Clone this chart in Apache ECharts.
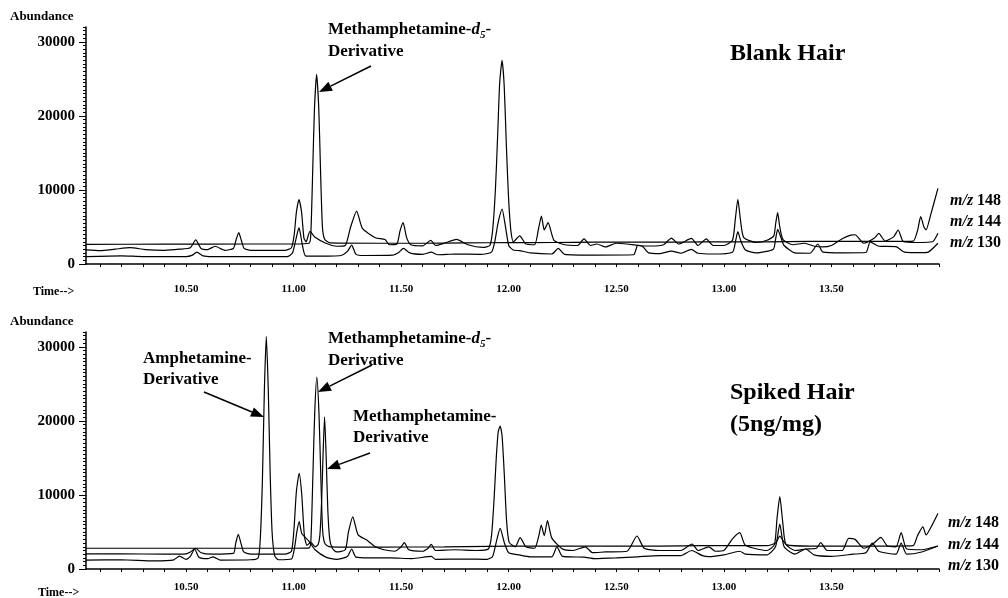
<!DOCTYPE html>
<html>
<head>
<meta charset="utf-8">
<script src="https://cdn.jsdelivr.net/npm/echarts@6/dist/echarts.min.js"></script>
<style>
  html,body{margin:0;padding:0;background:#fff;}
  #chart{width:1008px;height:598px;}
</style>
</head>
<body>
<div id="chart"></div>
<script>
// tick labels / tick positions
var xTickLabels = [10.5, 11.0, 11.5, 12.0, 12.5, 13.0, 13.5];
var xMinorTicks = [10.1,10.2,10.3,10.4,10.5,10.6,10.7,10.8,10.9,11.0,11.1,11.2,11.3,11.4,11.5,11.6,11.7,11.8,11.9,12.0,
                   12.1,12.2,12.3,12.4,12.5,12.6,12.7,12.8,12.9,13.0,13.1,13.2,13.3,13.4,13.5,13.6,13.7,13.8,13.9,14.0];
var yTickLabels = [0, 10000, 20000, 30000];

// Blank hair  [time, abundance]
var blank148 = [[10.035,2650],[10.40,2680],[10.80,2700],[11.00,2700],[11.072,2800],[11.08,4000],[11.089,12800],[11.097,21000],[11.107,25600],
  [11.117,21000],[11.125,12800],[11.134,5000],[11.145,3300],[11.17,2850],
  [11.40,2800],[11.60,2800],[11.80,2850],[12.00,2880],[12.20,2900],[12.40,2950],[12.60,2950],[12.80,2950],[13.00,3000],[13.20,3000],[13.40,3050],
  [13.60,3050],[13.80,3050],[13.88,3100],[13.90,4500],[13.915,6400],[13.93,5000],[13.94,4600],[13.96,6500],[13.995,10200]];
var blank144 = [[10.035,1900],[10.10,1800],[10.17,2000],[10.24,2200],[10.31,1950],[10.40,1850],[10.47,2000],[10.52,2200],[10.545,3250],[10.57,2100],
  [10.60,1950],[10.635,2400],[10.68,1850],[10.72,2100],[10.733,3300],[10.745,4230],[10.757,3200],[10.77,2100],[10.80,1850],[10.96,1850],[10.99,2200],
  [11.003,4000],[11.013,7000],[11.025,8700],[11.037,7000],[11.048,3500],[11.058,3000],[11.076,4400],[11.10,3600],[11.15,2800],[11.20,2400],[11.24,2500],
  [11.265,5000],[11.293,7150],[11.32,4800],[11.38,3550],
  [11.425,3300],[11.445,2600],[11.48,2700],[11.495,4500],[11.509,5580],[11.525,3600],[11.545,2600],[11.60,2450],[11.638,3200],[11.66,2500],[11.70,2800],
  [11.757,3330],[11.81,2600],[11.88,2250],[11.912,2500],[11.925,4500],[11.938,10000],[11.948,17000],[11.958,24500],[11.969,27500],[11.979,24000],
  [11.989,16000],[11.999,9000],[12.01,4500],[12.022,3000],[12.051,3800],[12.08,2700],
  [12.12,2600],[12.14,5000],[12.152,6480],[12.165,4600],[12.183,5580],[12.21,3200],[12.26,2600],[12.32,2500],[12.35,3400],[12.38,2500],[12.41,2700],
  [12.45,2300],[12.50,2800],[12.55,2700],[12.60,2500],[12.66,2430],[12.72,2600],[12.756,3500],[12.79,2700],[12.849,3450],[12.88,2500],[12.918,3400],
  [12.95,2500],[13.00,2500],[13.04,3200],[13.053,6000],[13.065,8730],[13.077,6000],[13.092,3600],[13.15,2900],[13.20,3200],[13.232,3800],[13.241,5500],
  [13.25,6930],[13.26,5000],[13.275,3300],[13.32,2600],
  [13.375,2800],[13.42,2400],[13.46,2300],[13.50,2500],[13.55,3400],[13.59,3900],[13.61,3950],[13.65,2800],[13.70,3500],[13.72,4140],[13.75,3100],
  [13.79,3700],[13.81,4590],[13.835,3000],[13.90,2900],[13.97,3000],[13.995,4140]];
var blank130 = [[10.035,1000],[10.20,1100],[10.30,1000],[10.50,1000],[10.53,1200],[10.55,1600],[10.58,1100],[10.62,1000],[10.80,1000],[10.97,1000],
  [10.995,1500],[11.008,3000],[11.025,4900],[11.04,2700],[11.055,1100],[11.10,1050],[11.22,1150],[11.25,1700],[11.27,2550],[11.29,1300],[11.33,1150],
  [11.46,1200],[11.49,1600],[11.51,2100],[11.54,1500],[11.60,1300],[11.64,1600],[11.67,1250],[11.75,1350],[11.87,1300],[11.92,1600],[11.935,3000],
  [11.95,5500],[11.969,7400],[11.985,5000],[12.00,2500],[12.02,1900],[12.05,1800],[12.10,1500],[12.20,1350],[12.23,2100],[12.26,1300],[12.40,1200],[12.58,1250],[12.60,2550],
  [12.625,2300],[12.65,1500],[12.70,1400],[12.756,1750],[12.80,1450],[12.849,1980],[12.88,1450],[12.95,1350],[13.04,1600],[13.055,3200],[13.065,4360],
  [13.08,3000],[13.10,1900],[13.15,1500],[13.23,2000],[13.24,3300],[13.25,4680],[13.265,3600],[13.28,2500],[13.33,1500],[13.40,1450],[13.437,2700],
  [13.46,1600],[13.55,1500],[13.66,1550],[13.68,3000],
  [13.72,2400],[13.80,2340],[13.84,1600],[13.92,1530],[13.95,1600],[13.995,2800]];

// Spiked hair (5ng/mg)
var spiked148 = [[10.035,2800],[10.50,2800],[10.80,2800],[11.00,2800],[11.073,2850],[11.081,4200],[11.09,13000],[11.098,21000],[11.108,25900],
  [11.118,21000],[11.126,13000],[11.135,5200],[11.146,3400],[11.17,3000],
  [11.40,2950],[11.70,3000],[11.90,3050],[12.10,3100],[12.30,3100],[12.50,3100],[12.70,3100],[12.90,3150],[13.00,3150],[13.20,3150],[13.24,3500],
  [13.26,4450],[13.29,3300],[13.40,3100],[13.60,3100],[13.80,3100],[13.88,3150],[13.90,4500],[13.925,5700],[13.94,4600],[13.96,5500],[13.995,7500]];
var spiked144 = [[10.035,2050],[10.20,2050],[10.40,2000],[10.50,2050],[10.52,2300],[10.545,2800],[10.57,2200],[10.62,2000],[10.72,2100],[10.731,3500],
  [10.743,4680],[10.755,3500],[10.768,2300],[10.80,2000],[10.96,2000],[10.99,2400],[11.002,5500],[11.013,10500],[11.026,12900],[11.038,10000],
  [11.05,4500],[11.062,3200],[11.08,3600],[11.10,3000],[11.114,3300],[11.122,4500],[11.13,9000],[11.137,15500],[11.144,20550],[11.151,15500],
  [11.159,8000],[11.168,4000],[11.18,2800],[11.20,2300],[11.24,2600],[11.255,5000],[11.275,7050],[11.30,4600],[11.34,3900],[11.38,3000],
  [11.42,2600],[11.47,2400],[11.50,3000],[11.515,3550],[11.535,2600],[11.60,2400],[11.625,2800],[11.64,3330],[11.66,2500],[11.75,2600],[11.85,2500],
  [11.905,2700],[11.92,4500],[11.932,9500],[11.942,15000],[11.951,18500],[11.96,19300],[11.969,18000],[11.979,13000],[11.99,6500],[12.002,3600],[12.03,3000],
  [12.053,4230],[12.08,3000],[12.12,2800],[12.14,4500],[12.151,5940],
  [12.165,4500],[12.18,6525],[12.20,4200],[12.25,2700],[12.30,2500],[12.356,3000],[12.39,2200],[12.45,2300],[12.55,2400],[12.596,4455],[12.63,2800],
  [12.70,2500],[12.80,2500],[12.852,3375],[12.88,2500],[12.93,3000],[12.96,2400],[13.00,2500],[13.038,4000],[13.074,4900],[13.10,3200],[13.20,2500],
  [13.235,3300],[13.247,6800],[13.26,9760],[13.273,6500],[13.287,3400],[13.33,2500],[13.38,2700],[13.43,2800],[13.45,3555],[13.48,2500],[13.55,2500],
  [13.58,4140],[13.61,4000],
  [13.65,2800],[13.69,3300],[13.73,4275],[13.76,3100],[13.80,3000],[13.824,4900],[13.85,2700],[13.92,2600],[13.995,3100]];
var spiked130 = [[10.035,1200],[10.20,1250],[10.35,1100],[10.44,1200],[10.47,1750],[10.50,1300],[10.52,1700],[10.54,2700],[10.56,1600],[10.60,1400],
  [10.626,1650],[10.66,1200],[10.80,1250],[10.835,1500],[10.845,4000],[10.855,12000],[10.864,24000],[10.873,31400],[10.882,24500],[10.891,13000],
  [10.90,5000],[10.912,1800],[10.93,1250],[10.99,1350],[11.005,3000],[11.015,5000],
  [11.026,6400],[11.038,4800],[11.07,3800],[11.10,2600],[11.15,1600],[11.20,1300],[11.25,1700],[11.27,2700],[11.29,1600],[11.35,1500],[11.45,1500],
  [11.55,1400],[11.64,1700],[11.66,1300],[11.80,1350],[11.90,1300],[11.925,1700],[11.945,4000],[11.96,5490],[11.98,3500],[12.00,2200],[12.05,1900],
  [12.10,1650],[12.20,1650],[12.224,3015],[12.25,1700],[12.35,1600],[12.40,1400],[12.50,1500],[12.60,1650],[12.70,1800],[12.80,1800],[12.85,2500],
  [12.90,1800],[12.93,1660],[13.00,1900],[13.074,2400],[13.10,2000],[13.20,1900],[13.24,3000],[13.26,6075],[13.28,3000],[13.33,2000],[13.38,2700],
  [13.42,1900],[13.50,1700],[13.60,2000],[13.66,2200],[13.69,3500],[13.72,2400],[13.80,2000],[13.824,3500],[13.85,2000],[13.92,2300],[13.995,3100]];

var serif = '"Liberation Serif", "Times New Roman", serif';
var ink = '#000';

function xAxisFor(grid, labelMargin){
  return {
    type:'value', gridIndex:grid, min:10.035, max:14.0,
    axisLine:{show:true, onZero:false, lineStyle:{color:ink, width:1.5}},
    axisTick:{show:true, customValues:xMinorTicks, length:3, lineStyle:{color:ink}},
    axisLabel:{customValues:xTickLabels, formatter:function(v){return v.toFixed(2);},
      color:ink, fontFamily:serif, fontWeight:'bold', fontSize:11, margin:labelMargin},
    splitLine:{show:false}
  };
}
function yAxesFor(grid){
  return [{
    type:'value', gridIndex:grid, min:0, max:32000,
    axisLine:{show:true, lineStyle:{color:ink, width:1.5}},
    axisTick:{show:true, customValues:yTickLabels, length:7, lineStyle:{color:ink}},
    axisLabel:{customValues:yTickLabels, formatter:function(v){return String(v);},
      color:ink, fontFamily:serif, fontWeight:'bold', fontSize:15, margin:11},
    splitLine:{show:false}
  },{
    type:'value', gridIndex:grid, min:0, max:32000, interval:500, position:'left',
    axisLine:{show:false},
    axisTick:{show:true, length:3, lineStyle:{color:ink}},
    axisLabel:{show:false},
    splitLine:{show:false}
  }];
}
function trace(data, xi, yi){
  return {type:'line', xAxisIndex:xi, yAxisIndex:yi, data:data, showSymbol:false, smooth:0.2,
    lineStyle:{color:ink, width:1.2}, silent:true};
}
function arrow(x1,y1,x2,y2){
  var dx=x2-x1, dy=y2-y1, len=Math.sqrt(dx*dx+dy*dy), ux=dx/len, uy=dy/len;
  var hl=13, hw=5, bx=x2-ux*hl, by=y2-uy*hl;
  return [
    {type:'line', shape:{x1:x1,y1:y1,x2:bx,y2:by}, style:{stroke:ink, lineWidth:1.4}},
    {type:'polygon', shape:{points:[[x2,y2],[bx-uy*hw,by+ux*hw],[bx+uy*hw,by-ux*hw]]}, style:{fill:ink}}
  ];
}
function label(x, y, text, size, rich){
  return {type:'text', x:x, y:y, style:{text:text, fill:ink, fontFamily:serif, fontWeight:'bold',
    fontSize:size, verticalAlign:'middle', rich:rich || {}}};
}
var subRich = {
  a:{fontFamily:serif, fontWeight:'bold', fontSize:17, lineHeight:22, verticalAlign:'middle'},
  i:{fontFamily:serif, fontWeight:'bold', fontStyle:'italic', fontSize:17, lineHeight:22, verticalAlign:'middle'},
  s:{fontFamily:serif, fontWeight:'bold', fontStyle:'italic', fontSize:11, lineHeight:22, verticalAlign:'bottom'}
};
var mzRich = {
  i:{fontFamily:serif, fontWeight:'bold', fontStyle:'italic', fontSize:16},
  n:{fontFamily:serif, fontWeight:'bold', fontSize:16}
};

var chart = echarts.init(document.getElementById('chart'));
var option = {
  animation:false,
  backgroundColor:'#fff',
  grid:[
    {left:86, right:69, top:27, height:237},
    {left:86, right:69, top:332, height:237}
  ],
  xAxis:[xAxisFor(0, 20), xAxisFor(1, 13)],
  yAxis:yAxesFor(0).concat(yAxesFor(1)),
  series:[
    trace(blank148, 0, 0), trace(blank144, 0, 0), trace(blank130, 0, 0),
    trace(spiked148, 1, 2), trace(spiked144, 1, 2), trace(spiked130, 1, 2)
  ],
  graphic:[].concat(
    [
      label(10, 17, 'Abundance', 13),
      label(10, 322, 'Abundance', 13),
      label(33, 292, 'Time-->', 12),
      label(38, 593, 'Time-->', 12),
      label(730, 54, 'Blank Hair', 24),
      label(730, 393, 'Spiked Hair', 24),
      label(730, 425, '(5ng/mg)', 24),
      label(328, 30, '{a|Methamphetamine-}{i|d}{s|5}{a|-}', 17, subRich),
      label(328, 52, 'Derivative', 17),
      label(143, 359, 'Amphetamine-', 17),
      label(143, 380, 'Derivative', 17),
      label(328, 339, '{a|Methamphetamine-}{i|d}{s|5}{a|-}', 17, subRich),
      label(328, 361, 'Derivative', 17),
      label(353, 417, 'Methamphetamine-', 17),
      label(353, 438, 'Derivative', 17),
      label(950, 201, '{i|m/z} {n|148}', 16, mzRich),
      label(950, 222, '{i|m/z} {n|144}', 16, mzRich),
      label(950, 243, '{i|m/z} {n|130}', 16, mzRich),
      label(948, 523, '{i|m/z} {n|148}', 16, mzRich),
      label(948, 545, '{i|m/z} {n|144}', 16, mzRich),
      label(948, 566, '{i|m/z} {n|130}', 16, mzRich)
    ],
    arrow(371, 66, 319, 92),
    arrow(204, 392, 264, 417),
    arrow(372, 365, 318, 392),
    arrow(370, 453, 327, 469)
  )
};
chart.setOption(option);
window.addEventListener('resize', function(){ chart.resize(); });
</script>
</body>
</html>
